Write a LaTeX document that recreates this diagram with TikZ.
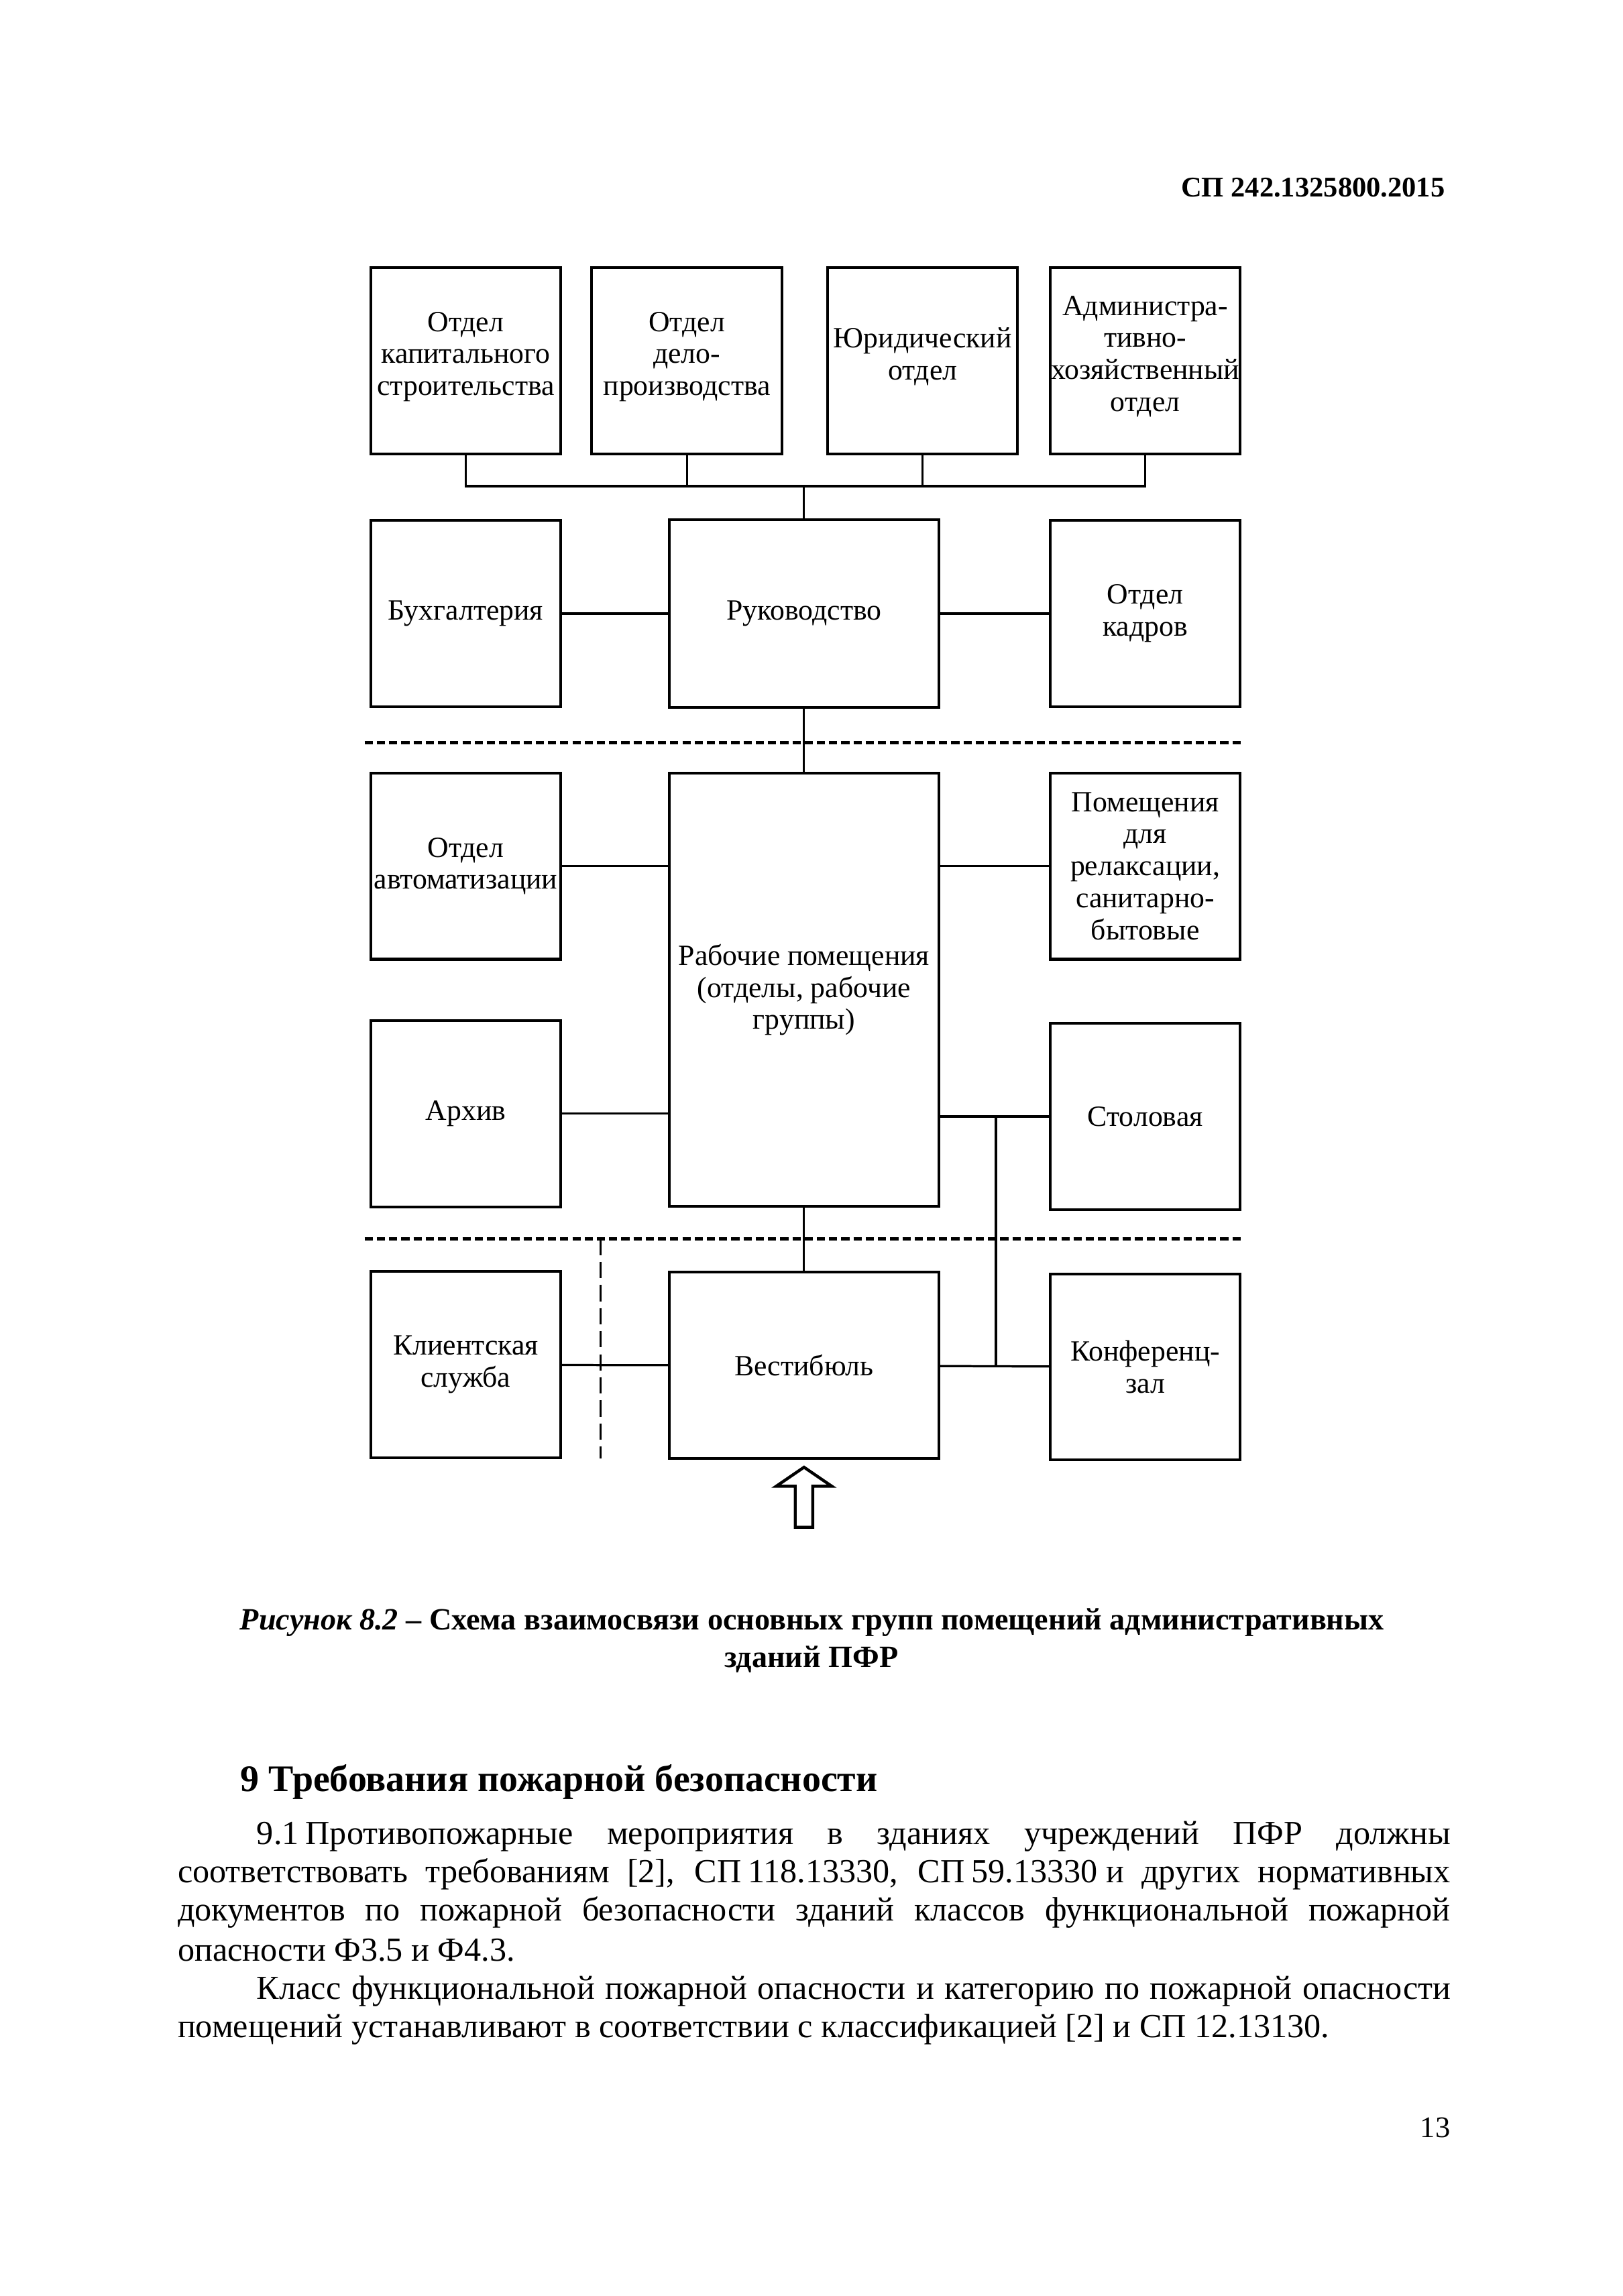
\documentclass[tikz,border=0pt]{standalone}
\usepackage{fontspec}
\setmainfont{Liberation Serif}
\usetikzlibrary{positioning,calc}

\begin{document}
\begin{tikzpicture}[x=0.018953cm,y=-0.018953cm,
  blk/.style={draw,line width=1pt,align=center,minimum width=2.46cm,minimum height=2.41cm,inner sep=0pt,font=\fontsize{10.8}{11.8}\selectfont},
  wide/.style={blk,minimum width=3.49cm},
  ln/.style={line width=0.8pt},
  sep/.style={line width=1.3pt,dash pattern=on 3pt off 1.5pt},
  vsep/.style={line width=0.6pt,dash pattern=on 6pt off 2.5pt},
  txt/.style={inner sep=0pt,font=\fontsize{12.4}{14}\selectfont}]
  \useasboundingbox (0,0) rectangle (1108,1568);
  % header
  \node[inner sep=0pt,anchor=east,font=\fontsize{10.5}{12}\selectfont\bfseries](hdr) at (987,128){СП 242.1325800.2015};
  % top row
  \node[blk](kap) at (318,246.5){Отдел\\капитального\\строительства\\[-6.4pt]};
  \node[blk](delo) at (469,246.5){Отдел\\дело-\\производства\\[-6.4pt]};
  \node[blk](jur) at (630,246.5){Юридический\\отдел\\[-6.4pt]};
  \node[blk](adm) at (782,246.5){Администра-\\тивно-\\хозяйственный\\отдел\\[-6.4pt]};
  % management row
  \node[blk](buh) at (318,419){Бухгалтерия};
  \node[wide,minimum height=2.43cm](ruk) at (549,419){Руководство};
  \node[blk](kadr) at (782,419){Отдел\\кадров};
  % working zone
  \node[blk](avt) at (318,591.5){Отдел\\автоматизации};
  \node[wide,minimum height=5.61cm](rab) at (549,676){Рабочие помещения\\(отделы, рабочие\\группы)};
  \node[blk](rel) at (782,591.5){Помещения\\для\\релаксации,\\санитарно-\\бытовые};
  \node[blk](arh) at (318,760.5){Архив};
  \node[blk](stol) at (782,762.5){Столовая};
  % entrance zone
  \node[blk](kli) at (318,932){Клиентская\\служба};
  \node[wide](ves) at (549,932.5){Вестибюль};
  \node[blk](konf) at (782,933.5){Конференц-\\зал};
  % links
  \coordinate (bus) at (549,332);
  \draw[ln](kap.south)--(kap.south|-bus)--(adm.south|-bus)--(adm.south);
  \draw[ln](delo.south)--(delo.south|-bus);\draw[ln](jur.south)--(jur.south|-bus);
  \draw[ln](bus)--(ruk.north);
  \draw[ln](buh)--(ruk);\draw[ln](ruk)--(kadr);
  \draw[ln](ruk)--(rab);
  \draw[ln](avt)--(avt-|rab.west);\draw[ln](rel-|rab.east)--(rel);
  \draw[ln](arh)--(arh-|rab.west);\draw[ln](stol-|rab.east)--(stol);
  \draw[ln](rab)--(ves);
  \draw[ln](kli)--(ves);\draw[ln](ves)--(konf);
  \coordinate (j1) at (680,762.5);
  \draw[ln](j1)--(j1|-ves);
  % zone borders
  \coordinate (s1) at (249,507);\coordinate (s2) at (849,507);
  \coordinate (s3) at (249,846);\coordinate (s4) at (849,846);
  \coordinate (s5) at (410,846);\coordinate (s6) at (410,996);
  \draw[sep](s1)--(s2);\draw[sep](s3)--(s4);\draw[vsep](s5)--(s6);
  % entry arrow
  \draw[line width=1.1pt,line join=miter](549,1002)--(568,1015)--(555,1015)--(555,1043)--(543,1043)--(543,1015)--(530,1015)--cycle;
  % caption
  \node[inner sep=0pt,font=\fontsize{11.4}{14}\selectfont\bfseries](cap1) at (554.5,1108){\textit{Рисунок 8.2} – Схема взаимосвязи основных групп помещений административных};
  \node[inner sep=0pt,font=\fontsize{11.4}{14}\selectfont\bfseries](cap2) at (554,1133){зданий ПФР};
  % section
  \node[inner sep=0pt,anchor=west,font=\fontsize{13.8}{16}\selectfont\bfseries](sec) at (164,1217){9 Требования пожарной безопасности};
  \node[txt,anchor=west](p1) at (175,1254){\makebox[15.45cm][s]{9.1\hspace{0.2em}Противопожарные мероприятия в зданиях учреждений ПФР должны}};
  \node[txt,anchor=west](p2) at (121,1280){\makebox[16.47cm][s]{соответствовать требованиям [2], СП\hspace{0.2em}118.13330, СП\hspace{0.2em}59.13330\hspace{0.25em}и других нормативных}};
  \node[txt,anchor=west](p3) at (121,1306){\makebox[16.47cm][s]{документов по пожарной безопасности зданий классов функциональной пожарной}};
  \node[txt,anchor=west](p4) at (121,1332){опасности Ф3.5 и Ф4.3.};
  \node[txt,anchor=west](p5) at (175,1360){\makebox[15.45cm][s]{Класс функциональной пожарной опасности и категорию по пожарной опасности}};
  \node[txt,anchor=west](p6) at (121,1386){помещений устанавливают в соответствии с классификацией [2] и СП 12.13130.};
  % page number
  \node[inner sep=0pt,font=\fontsize{11}{12}\selectfont](pg) at (980,1453){13};
\end{tikzpicture}
\end{document}
